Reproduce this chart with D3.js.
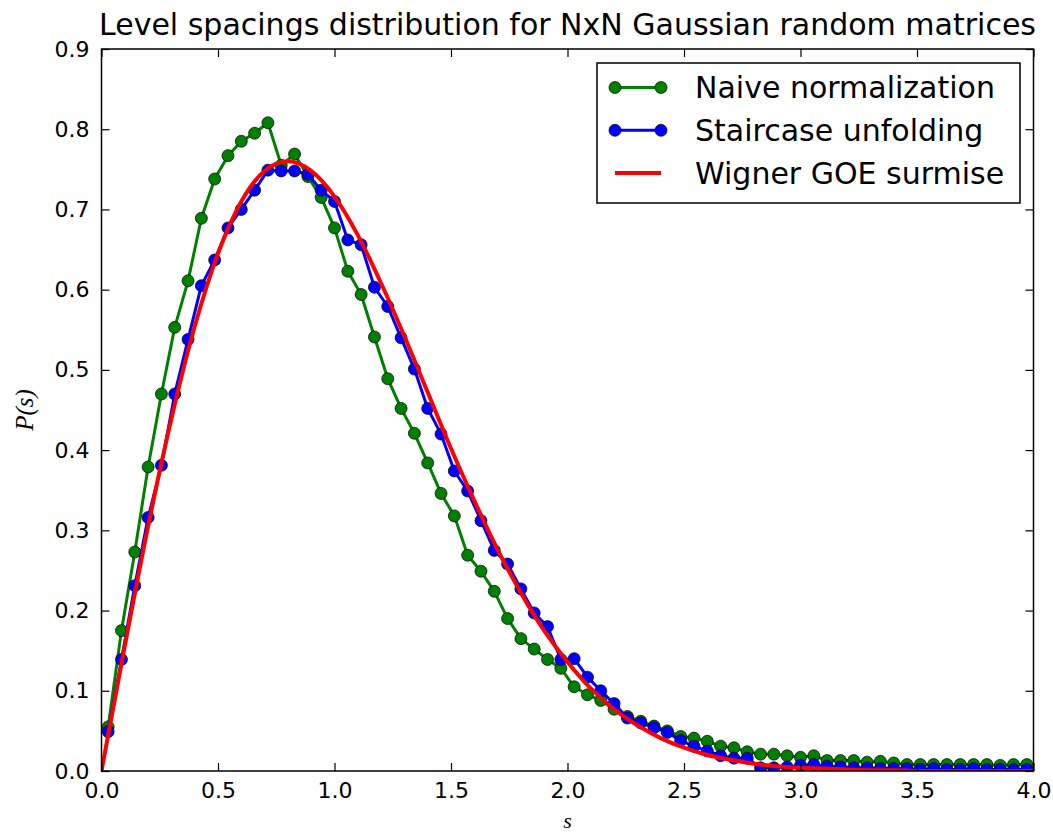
<!DOCTYPE html>
<html>
<head>
<meta charset="utf-8">
<script src="https://cdn.jsdelivr.net/npm/d3@7"></script>
<style>
  body { margin: 0; background: #fff; }
  text { font-family: "DejaVu Sans", sans-serif; fill: #000; }
</style>
</head>
<body>
<div id="chart"></div>
<script>
// histogram bins: 70 bins over [0, 4]
var nBins = 70, sMax = 4;

// Naive normalization (green)
var naive = [0.055, 0.175, 0.273, 0.379, 0.470, 0.553, 0.611, 0.689, 0.738, 0.767,
             0.785, 0.795, 0.808, 0.755, 0.769, 0.741, 0.715, 0.677, 0.623, 0.594,
             0.541, 0.489, 0.452, 0.421, 0.384, 0.346, 0.318, 0.269, 0.249, 0.224,
             0.190, 0.165, 0.152, 0.139, 0.128, 0.105, 0.095, 0.088, 0.077, 0.068,
             0.062, 0.056, 0.050, 0.043, 0.041, 0.037, 0.031, 0.029, 0.024, 0.021,
             0.021, 0.019, 0.017, 0.019, 0.013, 0.013, 0.013, 0.011, 0.012, 0.010,
             0.008, 0.008, 0.008, 0.008, 0.008, 0.008, 0.008, 0.007, 0.008, 0.008];

// Staircase unfolding (blue)
var staircase = [0.049, 0.139, 0.231, 0.316, 0.381, 0.470, 0.538, 0.605, 0.637, 0.677,
                 0.700, 0.724, 0.749, 0.748, 0.748, 0.744, 0.724, 0.710, 0.662, 0.656,
                 0.603, 0.579, 0.540, 0.501, 0.452, 0.420, 0.374, 0.349, 0.312, 0.275,
                 0.258, 0.227, 0.197, 0.180, 0.139, 0.140, 0.117, 0.100, 0.084, 0.066,
                 0.060, 0.054, 0.048, 0.038, 0.031, 0.025, 0.019, 0.016, 0.016, 0.004,
                 0.004, 0.005, 0.007, 0.008, 0.006, 0.005, 0.004, 0.004, 0.003, 0.003,
                 0.003, 0.002, 0.003, 0.002, 0.002, 0.003, 0.002, 0.002, 0.002, 0.002];

// Wigner GOE surmise (red), read every 0.1
var goeS = d3.range(0, 41).map(function(i) { return i / 10; });
var goeP = [0.000, 0.156, 0.305, 0.439, 0.554, 0.645, 0.710, 0.748, 0.760, 0.748,
            0.716, 0.668, 0.608, 0.542, 0.472, 0.402, 0.337, 0.276, 0.222, 0.175,
            0.136, 0.103, 0.077, 0.057, 0.041, 0.029, 0.020, 0.014, 0.009, 0.006,
            0.004, 0.003, 0.002, 0.001, 0.001, 0.000, 0.000, 0.000, 0.000, 0.000, 0.000];

var xTicks = [0, 0.5, 1, 1.5, 2, 2.5, 3, 3.5, 4];
var yTicks = [0, 0.1, 0.2, 0.3, 0.4, 0.5, 0.6, 0.7, 0.8, 0.9];

var W = 1053, H = 834;
var margin = {top: 49, right: 19.5, bottom: 63, left: 101.5};
var width = W - margin.left - margin.right,
    height = H - margin.top - margin.bottom;

var svg = d3.select("#chart").append("svg")
    .attr("width", W).attr("height", H);
var g = svg.append("g")
    .attr("transform", "translate(" + margin.left + "," + margin.top + ")");

var x = d3.scaleLinear().domain([0, 4]).range([0, width]);
var y = d3.scaleLinear().domain([0, 0.9]).range([height, 0]);

var centers = d3.range(nBins).map(function(k) { return (k + 0.5) * sMax / nBins; });

var clip = g.append("clipPath").attr("id", "clip")
  .append("rect").attr("width", width).attr("height", height);
var plot = g.append("g").attr("clip-path", "url(#clip)");

var line = d3.line()
    .x(function(d) { return x(d[0]); })
    .y(function(d) { return y(d[1]); });

function series(vals, color) {
  var pts = vals.map(function(v, i) { return [centers[i], v]; });
  plot.append("path").datum(pts)
    .attr("fill", "none").attr("stroke", color).attr("stroke-width", 3)
    .attr("stroke-linejoin", "round")
    .attr("d", line);
  plot.selectAll(null).data(pts).enter().append("circle")
    .attr("cx", function(d) { return x(d[0]); })
    .attr("cy", function(d) { return y(d[1]); })
    .attr("r", 6)
    .attr("fill", color)
    .attr("stroke", "#000").attr("stroke-opacity", 0.7).attr("stroke-width", 1);
}
series(naive, "#008000");
series(staircase, "#0000ff");

var goe = goeS.map(function(s, i) { return [s, goeP[i]]; });
plot.append("path").datum(goe)
  .attr("fill", "none").attr("stroke", "#ff0000").attr("stroke-width", 4)
  .attr("d", line.curve(d3.curveMonotoneX));

// axes (ticks inside, on all four sides)
function styleAxis(sel) {
  sel.select(".domain").remove();
  sel.selectAll(".tick line").attr("stroke", "#000").attr("stroke-width", 1.2);
  sel.selectAll("text").style("font-size", "22px").attr("fill", "#000");
}
var fmt = d3.format(".1f");
g.append("g").attr("transform", "translate(0," + height + ")")
  .call(d3.axisBottom(x).tickValues(xTicks).tickFormat(fmt).tickSizeInner(-8).tickPadding(11))
  .call(styleAxis);
g.append("g")
  .call(d3.axisLeft(y).tickValues(yTicks).tickFormat(fmt).tickSizeInner(-8).tickPadding(12))
  .call(styleAxis);
g.append("g")
  .call(d3.axisTop(x).tickValues(xTicks).tickFormat("").tickSizeInner(-8))
  .call(styleAxis);
g.append("g").attr("transform", "translate(" + width + ",0)")
  .call(d3.axisRight(y).tickValues(yTicks).tickFormat("").tickSizeInner(-8))
  .call(styleAxis);

g.append("rect").attr("width", width).attr("height", height)
  .attr("fill", "none").attr("stroke", "#000").attr("stroke-width", 1.5);

// title and labels
svg.append("text")
  .attr("x", margin.left + width / 2).attr("y", 35)
  .attr("text-anchor", "middle").style("font-size", "30px")
  .text("Level spacings distribution for NxN Gaussian random matrices");

svg.append("text")
  .attr("x", margin.left + width / 2).attr("y", 828)
  .attr("text-anchor", "middle")
  .style("font-family", "'Liberation Serif', serif").style("font-style", "italic")
  .style("font-size", "22px")
  .text("s");

svg.append("text")
  .attr("transform", "translate(33," + (margin.top + height / 2) + ") rotate(-90)")
  .attr("text-anchor", "middle")
  .style("font-family", "'Liberation Serif', serif").style("font-style", "italic")
  .style("font-size", "25px")
  .text("P(s)");

// legend
var legend = svg.append("g");
legend.append("rect")
  .attr("x", 597).attr("y", 63).attr("width", 423).attr("height", 140)
  .attr("fill", "#fff").attr("stroke", "#000").attr("stroke-width", 1.5);

var legItems = [
  {label: "Naive normalization", color: "#008000", marker: true, w: 3},
  {label: "Staircase unfolding", color: "#0000ff", marker: true, w: 3},
  {label: "Wigner GOE surmise", color: "#ff0000", marker: false, w: 4}
];
legItems.forEach(function(d, i) {
  var cy = 87.5 + i * 42.8;
  legend.append("line")
    .attr("x1", 615).attr("x2", 661).attr("y1", cy).attr("y2", cy)
    .attr("stroke", d.color).attr("stroke-width", d.w);
  if (d.marker) {
    [615, 661].forEach(function(mx) {
      legend.append("circle").attr("cx", mx).attr("cy", cy).attr("r", 6)
        .attr("fill", d.color)
        .attr("stroke", "#000").attr("stroke-opacity", 0.7).attr("stroke-width", 1);
    });
  }
  legend.append("text")
    .attr("x", 695).attr("y", cy + 10.5)
    .style("font-size", "30px")
    .text(d.label);
});
</script>
</body>
</html>
